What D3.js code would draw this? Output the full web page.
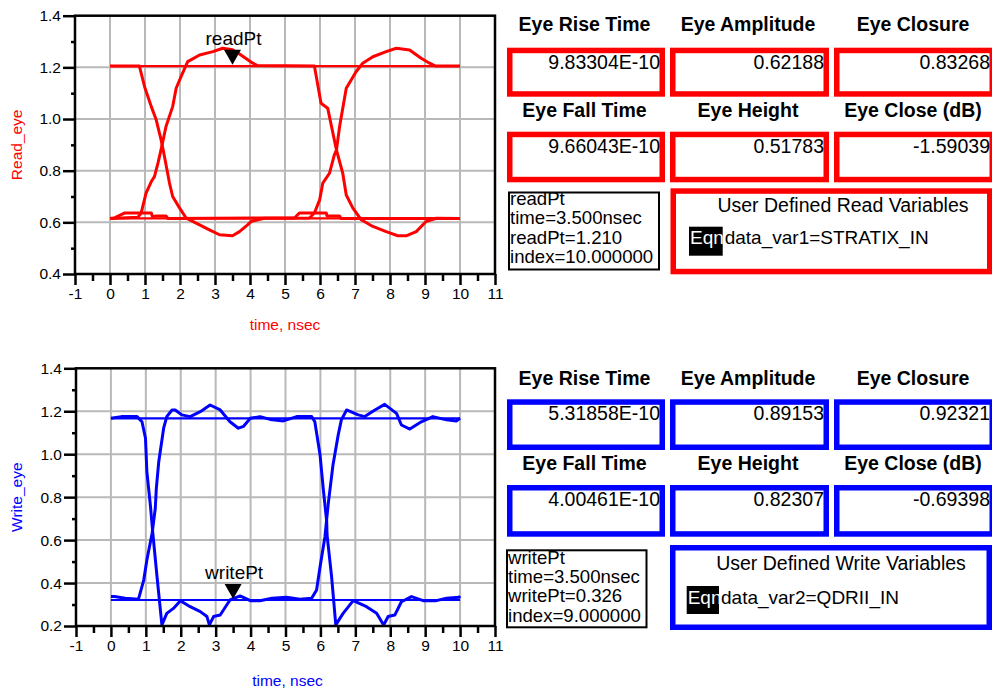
<!DOCTYPE html>
<html><head><meta charset="utf-8">
<script src="https://cdn.jsdelivr.net/npm/d3@7"></script>
<style>
body{margin:0;background:#fff;}
svg{display:block;font-family:"Liberation Sans",Arial,sans-serif;}
</style></head>
<body>
<svg id="c" width="992" height="690"></svg>
<script>
// ---------- DATA ----------
const xTicks = [-1,0,1,2,3,4,5,6,7,8,9,10,11];
const readYTicks = [0.4,0.6,0.8,1.0,1.2,1.4];
const writeYTicks = [0.2,0.4,0.6,0.8,1.0,1.2,1.4];

// Read eye (red) traces: [time nsec, value]
const readHigh = [[0,1.205],[10,1.205]];
const readLow  = [[0,0.615],[10,0.615]];
const readTraceA = [[0,1.205],[0.84,1.205],[0.99,1.124],[1.18,1.048],[1.32,0.997],[1.46,0.919],[1.52,0.88],[1.70,0.752],[1.79,0.70],[1.99,0.655],[2.18,0.616],[2.56,0.590],[2.84,0.571],[3.13,0.552],[3.5,0.548],[3.70,0.564],[3.93,0.59],[4.03,0.603],[4.41,0.616],[5.7,0.617],[5.84,0.636],[5.99,0.687],[6.08,0.752],[6.27,0.79],[6.41,0.861],[6.47,0.88],[6.56,0.971],[6.75,1.119],[6.89,1.151],[7.03,1.183],[7.22,1.216],[7.51,1.241],[7.89,1.261],[8.18,1.274],[8.56,1.267],[8.89,1.235],[9.13,1.216],[9.3,1.205],[10,1.205]];
const readTraceB = [[0,0.615],[0.8,0.62],[0.89,0.636],[1.03,0.713],[1.18,0.758],[1.27,0.777],[1.37,0.829],[1.47,0.888],[1.60,0.971],[1.79,1.048],[1.89,1.119],[2.03,1.164],[2.22,1.222],[2.56,1.248],[2.94,1.261],[3.22,1.274],[3.50,1.268],[3.70,1.252],[4.08,1.216],[4.22,1.207],[5.84,1.205],[6.03,1.061],[6.22,1.042],[6.41,0.919],[6.47,0.88],[6.65,0.79],[6.75,0.706],[6.94,0.655],[7.18,0.61],[7.51,0.584],[7.89,0.564],[8.22,0.548],[8.46,0.548],[8.75,0.564],[9.03,0.603],[9.32,0.616],[10,0.615]];
const readTraceC = [[0,0.615],[0.13,0.617],[0.41,0.636],[1.18,0.636],[1.21,0.623],[1.33,0.625],[1.6,0.625],[1.65,0.615],[5.27,0.617],[5.41,0.636],[6.18,0.636],[6.2,0.625],[6.56,0.625],[6.6,0.615],[10,0.615]];

// Write eye (blue) traces
const writeHigh = [[0,1.167],[10,1.167]];
const writeLow  = [[0,0.321],[10,0.321]];
const writeTraceA = [[0,1.167],[0.3,1.175],[0.75,1.175],[0.89,1.151],[0.99,1.074],[1.03,0.918],[1.13,0.763],[1.18,0.67],[1.2,0.632],[1.32,0.43],[1.46,0.205],[1.60,0.259],[1.79,0.282],[1.99,0.318],[2.27,0.29],[2.56,0.267],[2.75,0.244],[2.82,0.205],[2.94,0.244],[3.13,0.251],[3.41,0.321],[3.7,0.34],[3.99,0.318],[4.27,0.318],[4.61,0.329],[5.03,0.334],[5.41,0.325],[5.75,0.329],[5.89,0.368],[5.99,0.476],[6.13,0.616],[6.22,0.763],[6.36,0.95],[6.51,1.09],[6.60,1.16],[6.75,1.206],[7.08,1.183],[7.27,1.175],[7.56,1.206],[7.84,1.232],[8.18,1.19],[8.32,1.136],[8.56,1.117],[8.89,1.151],[9.22,1.175],[9.61,1.16],[9.89,1.155],[10,1.167]];
const writeTraceB = [[0,0.337],[0.1,0.337],[0.41,0.329],[0.79,0.325],[0.94,0.414],[1.03,0.507],[1.18,0.632],[1.27,0.747],[1.30,0.84],[1.37,0.965],[1.51,1.121],[1.60,1.175],[1.75,1.206],[1.84,1.206],[2.03,1.183],[2.27,1.175],[2.56,1.198],[2.84,1.229],[3.13,1.206],[3.41,1.151],[3.65,1.121],[3.8,1.13],[3.99,1.167],[4.27,1.175],[4.56,1.162],[4.94,1.155],[5.32,1.175],[5.75,1.175],[5.84,1.151],[5.99,0.996],[6.08,0.841],[6.18,0.686],[6.19,0.624],[6.32,0.43],[6.44,0.205],[6.65,0.259],[6.94,0.318],[7.32,0.29],[7.61,0.259],[7.81,0.205],[7.94,0.244],[8.13,0.251],[8.32,0.313],[8.61,0.337],[8.94,0.318],[9.32,0.318],[9.61,0.329],[9.97,0.334],[10,0.34]];

// Markers
const readMarker = {name:"readPt", t:3.5, v:1.210, index:"10.000000"};
const writeMarker = {name:"writePt", t:3.5, v:0.326, index:"9.000000"};

// Eye metrics
const metricLabels = ["Eye Rise Time","Eye Amplitude","Eye Closure","Eye Fall Time","Eye Height","Eye Close (dB)"];
const readMetricValues = ["9.83304E-10","0.62188","0.83268","9.66043E-10","0.51783","-1.59039"];
const writeMetricValues = ["5.31858E-10","0.89153","0.92321","4.00461E-10","0.82307","-0.69398"];
const readVarTitle = "User Defined Read Variables";
const writeVarTitle = "User Defined Write Variables";
const readVarEqn = "data_var1=STRATIX_IN";
const writeVarEqn = "data_var2=QDRII_IN";

// ---------- DRAW ----------
const svg = d3.select("#c");
const FONT = '"Liberation Sans", Arial, sans-serif';
const fmtInt = d => String(d);
const fmtY = d => d.toFixed(1);

function drawEye(cfg){
  const g = svg.append("g");
  const x = d3.scaleLinear().domain([-1,11]).range(cfg.xRange);
  const y = d3.scaleLinear().domain([cfg.yTicks[0], cfg.yTicks[cfg.yTicks.length-1]]).range(cfg.yRange);
  const [x0,x1] = cfg.xRange, [yb,yt] = cfg.yRange;

  // grid
  g.append("g").selectAll("line").data(xTicks.filter(d=>d>-1&&d<11)).join("line")
    .attr("x1",d=>x(d)).attr("x2",d=>x(d)).attr("y1",yt).attr("y2",yb)
    .attr("stroke","#b9b9b9").attr("stroke-width",2);
  g.append("g").selectAll("line").data(cfg.yTicks.slice(1,-1)).join("line")
    .attr("y1",d=>y(d)).attr("y2",d=>y(d)).attr("x1",x0).attr("x2",x1)
    .attr("stroke","#b9b9b9").attr("stroke-width",2);

  // axes
  const minorX = d3.range(-1,11.01,0.5).filter(d=>!Number.isInteger(d));
  const minorY = d3.range(cfg.yTicks[0]+0.1, cfg.yTicks[cfg.yTicks.length-1], 0.2);
  const ax = g.append("g").attr("transform",`translate(0,${yb})`)
    .call(d3.axisBottom(x).tickValues(xTicks).tickSize(11).tickPadding(3).tickFormat(fmtInt));
  const axm = g.append("g").attr("transform",`translate(0,${yb})`)
    .call(d3.axisBottom(x).tickValues(minorX).tickSize(7).tickFormat(""));
  const ay = g.append("g").attr("transform",`translate(${x0},0)`)
    .call(d3.axisLeft(y).tickValues(cfg.yTicks).tickSize(12).tickPadding(2).tickFormat(fmtY));
  const aym = g.append("g").attr("transform",`translate(${x0},0)`)
    .call(d3.axisLeft(y).tickValues(minorY).tickSize(4).tickFormat(""));
  [ax,axm,ay,aym].forEach(a=>{
    a.select(".domain").remove();
    a.selectAll("line").attr("stroke","#000").attr("stroke-width",2.5);
    a.selectAll("text").attr("fill","#000").style("font-size","15.5px").style("font-family",FONT);
  });

  // traces
  const line = d3.line().x(d=>x(d[0])).y(d=>y(d[1]));
  const clipId = "clip"+cfg.id;
  svg.append("clipPath").attr("id",clipId).append("rect")
     .attr("x",x0).attr("y",yt).attr("width",x1-x0).attr("height",yb-yt);
  const tg = g.append("g").attr("clip-path",`url(#${clipId})`);
  cfg.flat.forEach(d=>tg.append("path").attr("d",line(d)).attr("fill","none")
     .attr("stroke",cfg.color).attr("stroke-width",2.2));
  cfg.traces.forEach(d=>tg.append("path").attr("d",line(d)).attr("fill","none")
     .attr("stroke",cfg.color).attr("stroke-width",3).attr("stroke-linejoin","round"));

  // frame
  g.append("rect").attr("x",x0).attr("y",yt).attr("width",x1-x0).attr("height",yb-yt)
    .attr("fill","none").attr("stroke","#000").attr("stroke-width",2.5);

  // marker
  const mx = x(cfg.marker.t), my = y(cfg.marker.v);
  g.append("path").attr("d",`M${mx-8.5},${my-15}L${mx+8.5},${my-15}L${mx},${my}Z`).attr("fill","#000");
  g.append("text").attr("x",mx+1).attr("y",my-20).attr("text-anchor","middle")
    .style("font-size","19px").style("font-family",FONT).text(cfg.marker.name);

  // axis titles
  g.append("text").attr("x",(x(0)+x(10))/2+(cfg.xTitleDx||0)).attr("y",cfg.xTitleY).attr("text-anchor","middle")
    .attr("fill",cfg.color).style("font-size","15.5px").style("font-family",FONT).text("time, nsec");
  g.append("text").attr("transform",`translate(${cfg.yTitleX},${(yt+yb)/2}) rotate(-90)`)
    .attr("text-anchor","middle").attr("fill",cfg.color).style("font-size","15.5px").style("font-family",FONT)
    .text(cfg.yTitle);
}

function drawPanel(p){
  const g = svg.append("g");
  const colX = [507,670,834], colW = [158,159,161];
  metricLabels.forEach((lab,i)=>{
    const r = Math.floor(i/3), c = i%3;
    const bx = colX[c], bw = colW[c], by = p.boxY[r], bh = p.boxH[r];
    g.append("text").attr("x",bx+bw/2-1.5).attr("y",p.headY[r]).attr("text-anchor","middle")
      .style("font-size","19.5px").style("font-weight","bold").style("font-family",FONT).text(lab);
    g.append("rect").attr("x",bx+2.75).attr("y",by+2.75).attr("width",bw-5.5).attr("height",bh-5.5)
      .attr("fill","none").attr("stroke",p.color).attr("stroke-width",5.5);
    g.append("text").attr("x",bx+bw-5).attr("y",by+21).attr("text-anchor","end")
      .style("font-size","19.5px").style("font-family",FONT).text(p.values[i]);
  });
  // marker readout box
  const mb = p.markBox;
  g.append("rect").attr("x",mb.x+1).attr("y",mb.y+1).attr("width",mb.w-2).attr("height",mb.h-2)
    .attr("fill","none").attr("stroke","#000").attr("stroke-width",2);
  const m = p.marker;
  const lines = [m.name, `time=${m.t.toFixed(3)}nsec`, `${m.name}=${m.v.toFixed(3)}`, `index=${m.index}`];
  lines.forEach((t,i)=>g.append("text").attr("x",mb.x+2).attr("y",mb.base0+i*mb.step)
    .style("font-size","18.6px").style("font-family",FONT).text(t));
  // variables box
  const vb = p.varBox;
  g.append("rect").attr("x",vb.x+2.75).attr("y",vb.y+2.75).attr("width",vb.w-5.5).attr("height",vb.h-5.5)
    .attr("fill","none").attr("stroke",p.color).attr("stroke-width",5.5);
  g.append("text").attr("x",vb.titleX).attr("y",vb.titleY).attr("text-anchor","middle")
    .style("font-size","19.5px").style("font-family",FONT).text(p.varTitle);
  g.append("rect").attr("x",vb.eqnX).attr("y",vb.eqnY).attr("width",vb.eqnW).attr("height",vb.eqnH).attr("fill","#000");
  g.append("text").attr("x",vb.eqnX+1).attr("y",vb.eqnBase).attr("fill","#fff")
    .style("font-size","19px").style("font-family",FONT).text("Eqn");
  g.append("text").attr("x",vb.eqnX+vb.eqnW+2).attr("y",vb.eqnBase)
    .style("font-size","19px").style("font-family",FONT).text(p.varEqn);
}

drawEye({id:"r", color:"#ff0000", xRange:[75,495], yRange:[274,15.7], yTicks:readYTicks,
  flat:[readHigh,readLow], traces:[readTraceA,readTraceB,readTraceC], marker:readMarker,
  yTitle:"Read_eye", yTitleX:22, xTitleY:330});
drawEye({id:"w", color:"#0000ff", xRange:[76,495], yRange:[626,368.3], yTicks:writeYTicks,
  flat:[writeHigh,writeLow], traces:[writeTraceA,writeTraceB], marker:writeMarker,
  yTitle:"Write_eye", yTitleX:22, xTitleY:686, xTitleDx:2});

drawPanel({color:"#ff0000", values:readMetricValues, headY:[30.7,116.7], boxY:[47.7,131.7], boxH:[49,50.6],
  marker:readMarker, markBox:{x:508,y:191.5,w:152,h:79,base0:205,step:19.4},
  varTitle:readVarTitle, varEqn:readVarEqn,
  varBox:{x:670.5,y:188.3,w:322,h:86,titleX:843,titleY:212.3,eqnX:689,eqnY:226.7,eqnW:33.7,eqnH:29,eqnBase:244}});
drawPanel({color:"#0000ff", values:writeMetricValues, headY:[385,470], boxY:[399.3,485], boxH:[50.7,51.7],
  marker:writeMarker, markBox:{x:506,y:549.3,w:141.5,h:79,base0:564,step:19.2},
  varTitle:writeVarTitle, varEqn:writeVarEqn,
  varBox:{x:670,y:545,w:322,h:85,titleX:841,titleY:570,eqnX:686.7,eqnY:586,eqnW:32.3,eqnH:28,eqnBase:604}});
</script>
</body></html>
